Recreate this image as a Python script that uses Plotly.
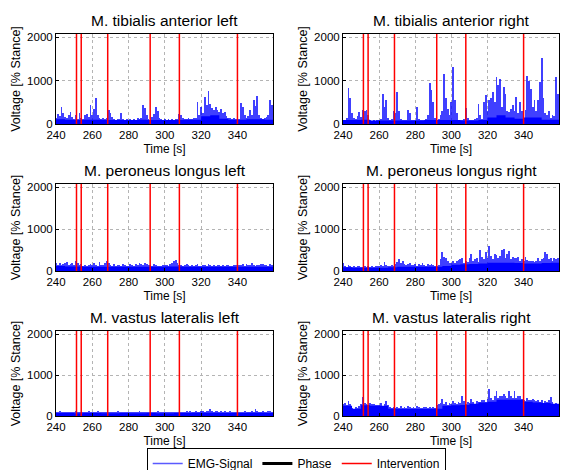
import plotly.graph_objs as go
from plotly.subplots import make_subplots

# --- time axis ---
T = list(range(240, 360))              # 1 s bins, peak EMG in each bin
BASE_T = list(range(240, 360, 5))      # 5 s bins, dense baseline level
INTERVENTIONS = [251.3, 253.9, 268.5, 291.9, 308, 340]

TITLES = ["M. tibialis anterior left", "M. tibialis anterior right",
          "M. peroneus longus left", "M. peroneus longus right",
          "M. vastus lateralis left", "M. vastus lateralis right"]

# --- peak values per second ---
TA_L = [150, 230, 180, 400, 250, 160, 140, 200, 280, 160,
        120, 200, 110, 260, 150, 120, 200, 240, 160, 430,
        200, 350, 600, 200, 150, 120, 140, 110, 130, 330,
        250, 160, 110, 100, 120, 110, 260, 120, 100, 110,
        100, 110, 100, 120, 100, 130, 110, 150, 450, 380,
        200, 120, 100, 160, 220, 400, 300, 150, 110, 100,
        110, 100, 120, 100, 110, 100, 120, 110, 240, 200,
        140, 110, 120, 130, 110, 120, 150, 130, 510, 200,
        400, 250, 620, 450, 760, 470, 380, 330, 400, 320,
        280, 350, 250, 280, 180, 150, 130, 120, 140, 120,
        110, 120, 490, 400, 200, 150, 180, 320, 200, 560,
        420, 650, 200, 150, 120, 130, 160, 200, 560, 450]

TA_R = [80, 90, 150, 830, 600, 250, 150, 120, 180, 280,
        160, 320, 300, 330, 200, 100, 80, 90, 80, 100,
        90, 120, 700, 400, 550, 150, 100, 120, 300, 250,
        740, 300, 120, 100, 90, 100, 320, 250, 100, 90,
        100, 400, 120, 90, 100, 90, 110, 200, 946, 780,
        500, 150, 100, 120, 200, 300, 1160, 600, 350, 200,
        500, 1310, 550, 250, 100, 90, 100, 120, 360, 150,
        100, 90, 100, 120, 150, 470, 200, 120, 510, 660,
        300, 550, 600, 740, 500, 1080, 900, 1045, 400, 850,
        700, 300, 280, 350, 435, 300, 625, 250, 510, 300,
        150, 320, 1120, 1000, 800, 400, 550, 300, 550, 970,
        1530, 600, 250, 200, 300, 150, 200, 180, 1080, 700]

PL_L = [200, 150, 180, 140, 170, 200, 210, 150, 160, 180,
        140, 230, 200, 150, 170, 120, 140, 130, 150, 160,
        140, 180, 150, 120, 210, 150, 140, 180, 240, 200,
        150, 130, 160, 120, 140, 150, 130, 170, 140, 120,
        130, 160, 140, 120, 170, 150, 190, 160, 140, 200,
        170, 140, 150, 130, 160, 140, 120, 110, 130, 150,
        140, 150, 120, 160, 180, 240, 260, 200, 150, 140,
        130, 150, 160, 140, 120, 150, 130, 140, 160, 130,
        120, 140, 150, 130, 170, 140, 120, 150, 130, 140,
        150, 130, 140, 120, 150, 140, 130, 120, 150, 140,
        130, 150, 140, 160, 130, 170, 140, 150, 190, 140,
        130, 150, 140, 160, 170, 140, 150, 130, 160, 150]

PL_R = [180, 120, 100, 140, 110, 90, 120, 100, 130, 110,
        100, 90, 110, 100, 120, 90, 110, 100, 130, 120,
        110, 140, 130, 215, 150, 120, 110, 140, 130, 160,
        220, 290, 200, 250, 170, 150, 160, 200, 140, 150,
        170, 130, 160, 140, 180, 150, 130, 170, 150, 160,
        140, 130, 120, 150, 280, 450, 330, 300, 250, 200,
        180, 250, 200, 230, 260, 280, 315, 200, 250, 220,
        300, 415, 250, 280, 300, 220, 510, 330, 280, 450,
        300, 606, 350, 280, 410, 380, 300, 350, 500, 530,
        300, 400, 490, 280, 330, 300, 320, 330, 250, 280,
        250, 330, 260, 230, 250, 250, 220, 250, 300, 250,
        280, 300, 450, 400, 280, 300, 250, 320, 280, 300]

VL_L = [110, 100, 120, 90, 100, 110, 95, 100, 110, 90,
        100, 120, 100, 95, 110, 100, 90, 105, 115, 100,
        95, 110, 100, 120, 100, 90, 100, 110, 95, 100,
        110, 100, 90, 100, 120, 95, 100, 110, 90, 100,
        100, 95, 110, 100, 90, 100, 115, 100, 95, 110,
        100, 90, 100, 110, 95, 100, 120, 90, 100, 95,
        100, 110, 95, 100, 90, 105, 100, 110, 95, 100,
        110, 100, 120, 100, 130, 110, 100, 120, 110, 105,
        115, 120, 110, 130, 120, 180, 120, 110, 125, 115,
        110, 120, 105, 115, 110, 100, 120, 110, 100, 110,
        100, 110, 95, 100, 120, 105, 100, 110, 115, 100,
        170, 130, 110, 100, 120, 110, 100, 115, 130, 110]

VL_R = [300, 330, 280, 370, 300, 200, 180, 220, 200, 250,
        300, 465, 320, 300, 280, 330, 290, 300, 270, 260,
        280, 330, 250, 300, 370, 260, 220, 200, 230, 200,
        210, 190, 240, 200, 220, 200, 250, 210, 190, 220,
        200, 240, 210, 190, 200, 230, 210, 190, 220, 200,
        210, 190, 280, 300, 330, 410, 300, 350, 280, 330,
        300, 370, 320, 300, 350, 330, 490, 370, 300, 350,
        330, 410, 350, 300, 370, 350, 340, 380, 400, 350,
        420, 665, 450, 400, 480, 600, 450, 500, 480, 550,
        500, 450, 620, 500, 450, 600, 450, 500, 480, 420,
        400, 370, 450, 380, 400, 420, 380, 370, 400, 350,
        380, 330, 360, 350, 380, 465, 340, 300, 320, 300]

# --- dense baseline per 5 s ---
TA_L_BASE = [110, 100, 90, 100, 100, 90, 90, 90, 90, 100, 90, 90,
             90, 90, 100, 100, 180, 200, 120, 100, 100, 110, 110, 100]
TA_R_BASE = [90, 90, 100, 80, 80, 80, 80, 80, 80, 90, 90, 90,
             90, 80, 80, 90, 150, 200, 150, 120, 150, 150, 100, 100]
PL_L_BASE = [120, 110, 110, 100, 100, 100, 100, 100, 100, 100, 100, 100,
             110, 110, 100, 100, 100, 100, 100, 100, 100, 100, 100, 100]
PL_R_BASE = [90, 80, 80, 80, 80, 90, 100, 100, 100, 100, 100, 120,
             150, 160, 170, 180, 200, 200, 200, 190, 180, 180, 190, 200]
VL_L_BASE = [75, 75, 70, 75, 75, 70, 70, 75, 70, 70, 75, 70,
             70, 75, 75, 80, 80, 80, 75, 75, 75, 80, 80, 75]
VL_R_BASE = [250, 180, 260, 250, 250, 180, 170, 170, 170, 170, 180, 250,
             260, 270, 300, 330, 350, 400, 400, 400, 350, 330, 320, 300]

PEAKS = [TA_L, TA_R, PL_L, PL_R, VL_L, VL_R]
BASES = [TA_L_BASE, TA_R_BASE, PL_L_BASE, PL_R_BASE, VL_L_BASE, VL_R_BASE]

FONT = "Arial, Liberation Sans, sans-serif"
W, H = 561, 470

# plot areas in pixels (left, right, top, bottom)
COLS = [(56, 273), (343, 559)]
ROWS = [(34, 124), (184, 271), (331, 416)]

fig = make_subplots(rows=3, cols=2)

for i in range(6):
    r, c = i // 2 + 1, i % 2 + 1
    # spikes
    fig.add_trace(go.Bar(x=T, y=PEAKS[i], width=1.0, marker_color="rgba(0,0,255,0.75)",
                         marker_line_width=0, showlegend=False, hoverinfo="skip"), row=r, col=c)
    # dense part of signal
    fig.add_trace(go.Scatter(x=BASE_T + [360], y=BASES[i] + [BASES[i][-1]], mode="lines",
                             line=dict(color="rgb(0,0,255)", width=0, shape="hv"),
                             fill="tozeroy", fillcolor="rgb(0,0,255)",
                             showlegend=False, hoverinfo="skip"), row=r, col=c)
    for t in INTERVENTIONS:
        fig.add_vline(x=t, line_color="rgb(255,0,0)", line_width=1.5, row=r, col=c)

# legend-only entries
fig.add_trace(go.Scatter(x=[None], y=[None], mode="lines", name="EMG-Signal",
                         line=dict(color="rgb(90,90,255)", width=1.5)))
fig.add_trace(go.Scatter(x=[None], y=[None], mode="lines", name="Phase",
                         line=dict(color="black", width=3)))
fig.add_trace(go.Scatter(x=[None], y=[None], mode="lines", name="Intervention",
                         line=dict(color="rgb(255,0,0)", width=1.5)))

annotations = []
for i in range(6):
    r, c = i // 2, i % 2
    x0, x1 = COLS[c]
    y0, y1 = ROWS[r]
    ax = "" if i == 0 else str(i + 1)
    fig.layout["xaxis" + ax].domain = [x0 / W, x1 / W]
    fig.layout["yaxis" + ax].domain = [1 - y1 / H, 1 - y0 / H]
    annotations.append(dict(text=TITLES[i], x=(x0 + x1) / 2 / W, y=1 - y0 / H,
                            xref="paper", yref="paper", xanchor="center", yanchor="bottom",
                            yshift=3, showarrow=False, font=dict(size=15.5, color="black", family=FONT)))

axis_style = dict(showline=True, linecolor="black", linewidth=1, mirror=True,
                  ticks="inside", ticklen=3, tickcolor="black", automargin=False,
                  showgrid=True, gridcolor="#b4b4b4", griddash="dot", gridwidth=1,
                  zeroline=False, tickfont=dict(size=11.5, color="black", family=FONT))

fig.update_xaxes(range=[240, 359.6], tickvals=[240, 260, 280, 300, 320, 340],
                 title=dict(text="Time [s]", font=dict(size=12, color="black", family=FONT), standoff=4),
                 **axis_style)
fig.update_yaxes(range=[0, 2080], tickvals=[0, 1000, 2000],
                 title=dict(text="Voltage [% Stance]", font=dict(size=12.5, color="black", family=FONT), standoff=3),
                 **axis_style)

fig.update_layout(
    width=W, height=H,
    margin=dict(l=0, r=0, t=0, b=0, autoexpand=False),
    plot_bgcolor="white", paper_bgcolor="white",
    barmode="overlay", bargap=0,
    annotations=annotations,
    font=dict(family=FONT, color="black"),
    legend=dict(orientation="h", x=0.528, y=1 - 448 / H, xanchor="center", yanchor="top",
                bordercolor="black", borderwidth=1, bgcolor="white",
                font=dict(size=12, color="black", family=FONT)),
)

# page body has a default 8px margin, drop it so the figure sits at the window corner
fig.write_html("out.html", config={"displayModeBar": False},
               post_script="document.body.style.margin='0px';")
